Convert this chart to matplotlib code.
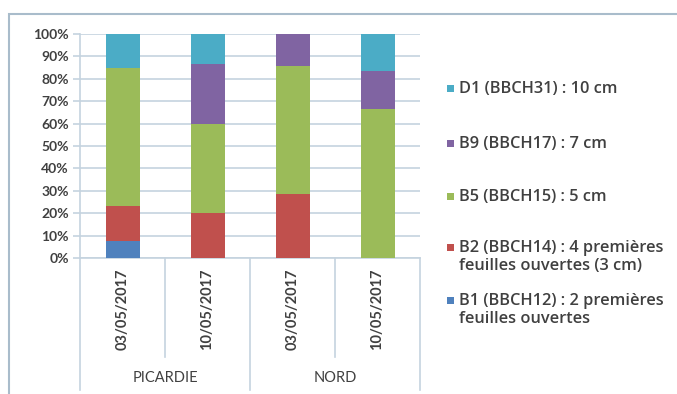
import matplotlib
matplotlib.use("Agg")
import matplotlib.pyplot as plt
from matplotlib.patches import Rectangle
import matplotlib.transforms as mtransforms

regions = ["PICARDIE", "NORD"]
dates = ["03/05/2017", "10/05/2017", "03/05/2017", "10/05/2017"]
series_names = [
    "B1 (BBCH12) : 2 premières\nfeuilles ouvertes",
    "B2 (BBCH14) : 4 premières\nfeuilles ouvertes (3 cm)",
    "B5 (BBCH15) : 5 cm",
    "B9 (BBCH17) : 7 cm",
    "D1 (BBCH31) : 10 cm",
]
B1 = [7.7, 0.0, 0.0, 0.0]
B2 = [15.4, 20.0, 28.6, 0.0]
B5 = [61.5, 40.0, 57.1, 66.7]
B9 = [0.0, 26.7, 14.3, 16.7]
D1 = [15.4, 13.3, 0.0, 16.6]
series = [B1, B2, B5, B9, D1]
colors = ["#4F81BD", "#C0504D", "#9BBB59", "#8064A2", "#4BACC6"]
yticks = [0, 10, 20, 30, 40, 50, 60, 70, 80, 90, 100]

W, H = 677, 394
fig = plt.figure(figsize=(W / 100, H / 100), dpi=100)
plt.rcParams['font.family'] = ['Lato', 'DejaVu Sans']
txtcol = "#404040"
gridcol = "#c5d3df"

ax = fig.add_axes([80 / W, (H - 258) / H, 340 / W, 224 / H])
x = list(range(len(dates)))
bottom = [0.0] * len(dates)
for vals, col, name in zip(series, colors, series_names):
    ax.bar(x, vals, width=0.4, bottom=bottom, color=col, label=name, zorder=3)
    bottom = [b + v for b, v in zip(bottom, vals)]

ax.set_xlim(-0.5, len(dates) - 0.5)
ax.set_ylim(0, 100)
ax.set_yticks(yticks)
ax.set_yticklabels([f"{t}%" for t in yticks], fontsize=10, color=txtcol, fontweight='bold')
ax.yaxis.grid(True, color=gridcol, linewidth=1.2, zorder=0)
ax.tick_params(axis='y', length=5, color=gridcol, width=1.2, pad=3)
ax.tick_params(axis='x', length=0)
ax.set_xticks([])
for s in ["top", "right"]:
    ax.spines[s].set_visible(False)
for s in ["left", "bottom"]:
    ax.spines[s].set_color(gridcol)
    ax.spines[s].set_linewidth(1.2)

trans = mtransforms.blended_transform_factory(ax.transData, ax.transAxes)
# category divider lines
for xi, depth in [(-0.5, -0.59), (0.5, -0.44), (1.5, -0.59), (2.5, -0.44), (3.5, -0.59)]:
    ax.plot([xi, xi], [0, depth], transform=trans, color=gridcol, linewidth=1.2, clip_on=False)
for xi, d in zip(x, dates):
    ax.text(xi, -0.045, d, transform=trans, rotation=90, ha='center', va='top',
            fontsize=10.5, color=txtcol, fontweight='bold')
for i, r in enumerate(regions):
    ax.text(2 * i + 0.5, -0.535, r, transform=trans, ha='center', va='center',
            fontsize=10.5, color=txtcol)

# legend (drawn manually, top entry first)
leg_y = [88, 143, 196, 247, 300]  # pixel y of first text line, top to bottom
for (name, col), yp in zip(list(zip(series_names, colors))[::-1], leg_y):
    fy = (H - yp) / H
    fig.patches.append(Rectangle((447 / W, fy - 3.5 / H), 7 / W, 7 / H,
                                 transform=fig.transFigure, facecolor=col, edgecolor='none'))
    fig.text(459 / W, fy + 7 / H, name, ha='left', va='top', fontsize=11.8,
             color=txtcol, fontweight='semibold', linespacing=1.2,
             family=['Open Sans', 'DejaVu Sans'])

# outer frame
fig.patches.append(Rectangle((9 / W, -0.2), 1.2, (H - 14) / H + 0.2, transform=fig.transFigure,
                             fill=False, edgecolor="#a9bccb", linewidth=1.5))

fig.savefig("out.png", dpi=100)
